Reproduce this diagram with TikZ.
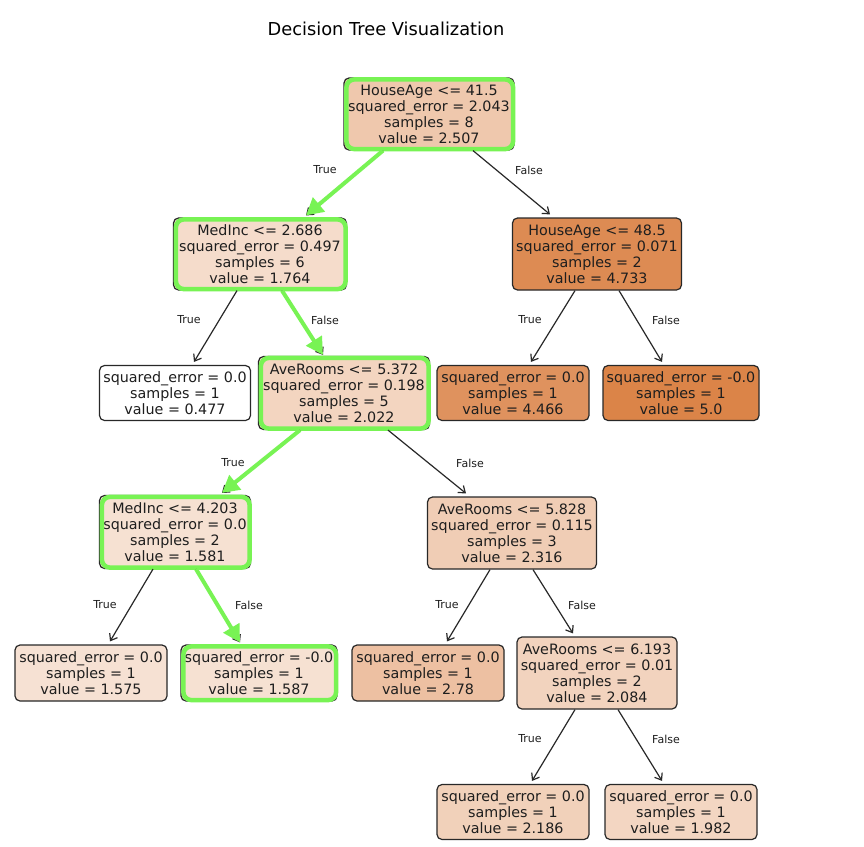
\documentclass[tikz,border=0pt]{standalone}
\usepackage{fontspec}
\setmainfont{DejaVu Sans}
\usetikzlibrary{arrows.meta}
\definecolor{boxline}{RGB}{40,40,40}
\definecolor{textc}{RGB}{30,30,30}
\definecolor{hlgreen}{RGB}{120,243,84}
\definecolor{c0}{RGB}{239,200,173}
\definecolor{c1}{RGB}{245,220,203}
\definecolor{c2}{RGB}{221,139,83}
\definecolor{c4}{RGB}{243,213,192}
\definecolor{c5}{RGB}{223,146,94}
\definecolor{c6}{RGB}{219,132,72}
\definecolor{c7}{RGB}{246,225,210}
\definecolor{c8}{RGB}{240,205,181}
\definecolor{c9}{RGB}{246,225,211}
\definecolor{c10}{RGB}{246,225,210}
\definecolor{c11}{RGB}{237,192,162}
\definecolor{c12}{RGB}{242,211,190}
\definecolor{c13}{RGB}{241,209,186}
\definecolor{c14}{RGB}{243,214,194}
\newcommand{\nodefont}{\fontsize{14.3}{16}\selectfont}
\newcommand{\labfont}{\fontsize{11}{13}\selectfont}
\tikzset{
  box/.style={draw=boxline, line width=1.2pt, rounded corners=5pt, align=center,
    inner sep=0pt, font=\nodefont, text=textc},
  hl/.style={draw=hlgreen, line width=4.5pt, rounded corners=8pt},
  edge/.style={draw=boxline, line width=1.2pt, -{Straight Barb[length=6pt,width=9pt]}},
  hledge/.style={draw=hlgreen, line width=4pt, -{Triangle[length=17pt,width=18pt]}},
  lab/.style={font=\labfont, text=textc, inner sep=0pt}
}
\begin{document}
\begin{tikzpicture}[x=1pt,y=-1pt]
\useasboundingbox[fill=white] (0,0) rectangle (864,846);
\node[font=\fontsize{17.8}{20}\selectfont, text=black] (title) at (386,29) {Decision Tree Visualization};

% nodes
\node[box, fill=c0, minimum width=170pt, minimum height=72pt] (n0) at (429,114)
  {HouseAge <= 41.5\\squared\_error = 2.043\\samples = 8\\value = 2.507};
\node[box, fill=c1, minimum width=173pt, minimum height=72pt] (n1) at (260,254)
  {MedInc <= 2.686\\squared\_error = 0.497\\samples = 6\\value = 1.764};
\node[box, fill=c2, minimum width=169pt, minimum height=72pt] (n2) at (597,254)
  {HouseAge <= 48.5\\squared\_error = 0.071\\samples = 2\\value = 4.733};
\node[box, fill=white, minimum width=151pt, minimum height=55pt] (n3) at (175,393)
  {squared\_error = 0.0\\samples = 1\\value = 0.477};
\node[box, fill=c4, minimum width=171pt, minimum height=73pt] (n4) at (344,393)
  {AveRooms <= 5.372\\squared\_error = 0.198\\samples = 5\\value = 2.022};
\node[box, fill=c5, minimum width=152pt, minimum height=55pt] (n5) at (513,393)
  {squared\_error = 0.0\\samples = 1\\value = 4.466};
\node[box, fill=c6, minimum width=156pt, minimum height=55pt] (n6) at (681,393)
  {squared\_error = -0.0\\samples = 1\\value = 5.0};
\node[box, fill=c7, minimum width=151pt, minimum height=73pt] (n7) at (175,532)
  {MedInc <= 4.203\\squared\_error = 0.0\\samples = 2\\value = 1.581};
\node[box, fill=c8, minimum width=169pt, minimum height=72pt] (n8) at (512,533)
  {AveRooms <= 5.828\\squared\_error = 0.115\\samples = 3\\value = 2.316};
\node[box, fill=c9, minimum width=152pt, minimum height=56pt] (n9) at (91,673)
  {squared\_error = 0.0\\samples = 1\\value = 1.575};
\node[box, fill=c10, minimum width=156pt, minimum height=56pt] (n10) at (259,673)
  {squared\_error = -0.0\\samples = 1\\value = 1.587};
\node[box, fill=c11, minimum width=152pt, minimum height=56pt] (n11) at (428,673)
  {squared\_error = 0.0\\samples = 1\\value = 2.78};
\node[box, fill=c12, minimum width=160pt, minimum height=72pt] (n12) at (597,673)
  {AveRooms <= 6.193\\squared\_error = 0.01\\samples = 2\\value = 2.084};
\node[box, fill=c13, minimum width=152pt, minimum height=55pt] (n13) at (513,812)
  {squared\_error = 0.0\\samples = 1\\value = 2.186};
\node[box, fill=c14, minimum width=152pt, minimum height=55pt] (n14) at (681,812)
  {squared\_error = 0.0\\samples = 1\\value = 1.982};

% highlight boxes
\foreach \n in {n0,n1,n4,n7,n10}{
  \draw[hl] ([xshift=3pt,yshift=-2pt]\n.north west) rectangle ([xshift=-1.5pt,yshift=1.5pt]\n.south east);
}

% edges
\draw[edge] ([xshift=-46pt]n0.south) -- ([xshift=46pt,yshift=2pt]n1.north);
\draw[hledge] ([xshift=-46pt]n0.south) -- ([xshift=46pt,yshift=2pt]n1.north);
\draw[edge] ([xshift=44pt]n0.south) -- ([xshift=-47pt,yshift=3pt]n2.north);
\draw[edge] ([xshift=-23pt]n1.south) -- ([xshift=19pt,yshift=3pt]n3.north);
\draw[edge] ([xshift=22pt]n1.south) -- ([xshift=-21pt,yshift=1pt]n4.north);
\draw[hledge] ([xshift=22pt]n1.south) -- ([xshift=-21pt,yshift=1pt]n4.north);
\draw[edge] ([xshift=-22pt]n2.south) -- ([xshift=18pt,yshift=3pt]n5.north);
\draw[edge] ([xshift=22pt]n2.south) -- ([xshift=-19pt,yshift=3pt]n6.north);
\draw[edge] ([xshift=-44pt]n4.south) -- ([xshift=47pt,yshift=2pt]n7.north);
\draw[hledge] ([xshift=-44pt]n4.south) -- ([xshift=47pt,yshift=2pt]n7.north);
\draw[edge] ([xshift=44pt]n4.south) -- ([xshift=-46pt,yshift=3pt]n8.north);
\draw[edge] ([xshift=-22pt]n7.south) -- ([xshift=19pt,yshift=3pt]n9.north);
\draw[edge] ([xshift=21pt]n7.south) -- ([xshift=-19pt,yshift=2pt]n10.north);
\draw[hledge] ([xshift=21pt]n7.south) -- ([xshift=-19pt,yshift=2pt]n10.north);
\draw[edge] ([xshift=-22pt]n8.south) -- ([xshift=19pt,yshift=3pt]n11.north);
\draw[edge] ([xshift=21pt]n8.south) -- ([xshift=-24pt,yshift=3pt]n12.north);
\draw[edge] ([xshift=-22pt]n12.south) -- ([xshift=19pt,yshift=3pt]n13.north);
\draw[edge] ([xshift=21pt]n12.south) -- ([xshift=-19pt,yshift=3pt]n14.north);

% edge labels
\node[lab] (l1) at (325,170) {True};
\node[lab] (l2) at (529,170) {False};
\node[lab] (l3) at (189,320) {True};
\node[lab] (l4) at (325,320) {False};
\node[lab] (l5) at (530,320) {True};
\node[lab] (l6) at (666,320) {False};
\node[lab] (l7) at (233,463) {True};
\node[lab] (l8) at (470,463) {False};
\node[lab] (l9) at (105,605) {True};
\node[lab] (l10) at (249,605) {False};
\node[lab] (l11) at (447,605) {True};
\node[lab] (l12) at (582,605) {False};
\node[lab] (l13) at (530,739) {True};
\node[lab] (l14) at (666,739) {False};
\end{tikzpicture}
\end{document}
